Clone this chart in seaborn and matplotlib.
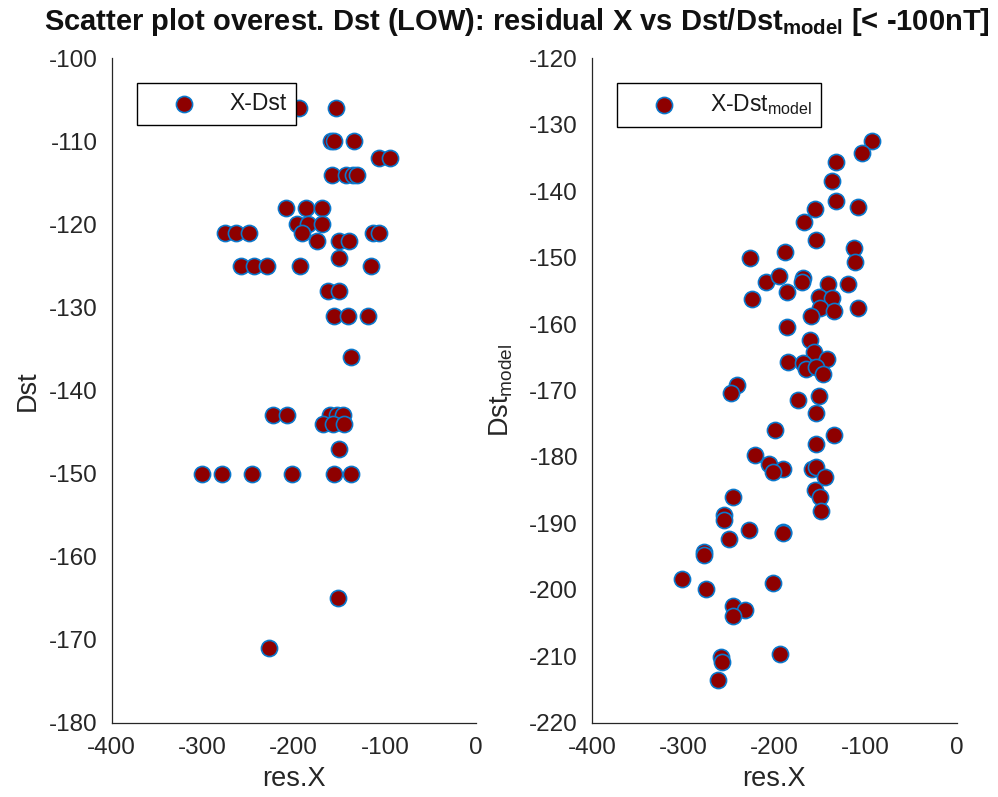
import matplotlib
matplotlib.use('Agg')
import matplotlib.pyplot as plt
import seaborn as sns
import pandas as pd

# ---------------- data ----------------
left_x = [-194, -154,
          -159, -156, -134,
          -106, -94,
          -158, -143, -135, -131,
          -209, -187, -169,
          -196, -184, -169,
          -191, -276, -263, -249, -113, -106,
          -175, -150, -139,
          -150,
          -258, -244, -229, -193, -115,
          -163, -150,
          -156, -141, -119,
          -137,
          -223, -207, -160, -153, -146,
          -168, -157, -145,
          -150,
          -301, -279, -246, -202, -156, -137,
          -151,
          -227]
left_y = [-106, -106,
          -110, -110, -110,
          -112, -112,
          -114, -114, -114, -114,
          -118, -118, -118,
          -120, -120, -120,
          -121, -121, -121, -121, -121, -121,
          -122, -122, -122,
          -124,
          -125, -125, -125, -125, -125,
          -128, -128,
          -131, -131, -131,
          -136,
          -143, -143, -143, -143, -143,
          -144, -144, -144,
          -147,
          -150, -150, -150, -150, -150, -150,
          -165,
          -171]

right_x = [-93, -104, -132, -137, -132, -108, -155, -168, -154, -113,
           -112, -227, -188, -209, -195, -169, -170, -119, -186, -141,
           -151, -137, -224, -150, -135, -108, -160, -186, -161, -157,
           -142, -185, -169, -165, -154, -147, -241, -247, -174, -151,
           -154, -199, -135, -154, -221, -206, -191, -201, -159, -154,
           -144, -155, -150, -149, -245, -255, -255, -228, -190, -191,
           -250, -277, -277, -301, -275, -202, -245, -232, -245, -194,
           -259, -257, -262]
right_y = [-132.5, -134.2, -135.6, -138.4, -141.4, -142.4, -142.7, -144.6, -147.3, -148.6,
           -150.6, -150.1, -149.2, -153.6, -152.8, -153.1, -153.6, -153.9, -155.1, -154.0,
           -155.9, -156.0, -156.2, -157.6, -158.1, -157.6, -158.8, -160.4, -162.4, -164.2,
           -165.2, -165.7, -165.9, -166.7, -166.4, -167.5, -169.2, -170.3, -171.5, -170.8,
           -173.4, -175.9, -176.7, -178.1, -179.7, -181.1, -181.8, -182.2, -181.8, -181.5,
           -183.0, -185.0, -186.0, -188.1, -186.0, -188.7, -189.5, -191.0, -191.3, -191.5,
           -192.4, -194.3, -194.8, -198.4, -199.9, -198.9, -202.5, -203.1, -203.9, -209.6,
           -210.1, -210.8, -213.6]

x_ticks = [-400, -300, -200, -100, 0]
left_y_ticks = [-180, -170, -160, -150, -140, -130, -120, -110, -100]
right_y_ticks = [-220, -210, -200, -190, -180, -170, -160, -150, -140, -130, -120]

# ---------------- style ----------------
sns.set_theme(style='white')
plt.rcParams['font.family'] = ['Liberation Sans', 'DejaVu Sans']
plt.rcParams['axes.unicode_minus'] = False
plt.rcParams['mathtext.fontset'] = 'custom'
plt.rcParams['mathtext.rm'] = 'Liberation Sans'
plt.rcParams['mathtext.it'] = 'Liberation Sans'
plt.rcParams['mathtext.bf'] = 'Liberation Sans:bold'
plt.rcParams['mathtext.default'] = 'rm'

FACE = '#8e0000'
EDGE = '#0a78cc'
AXC = '#262626'

fig = plt.figure(figsize=(9.98, 7.97), dpi=100)
ax1 = fig.add_axes([0.1119, 0.0932, 0.365, 0.8336])
ax2 = fig.add_axes([0.5932, 0.0932, 0.3654, 0.8336])

df_left = pd.DataFrame({'resX': left_x, 'Dst': left_y})
df_right = pd.DataFrame({'resX': right_x, 'Dstm': right_y})

sns.scatterplot(data=df_left, x='resX', y='Dst', ax=ax1, color=FACE,
                edgecolor=EDGE, linewidth=1.2, s=135, label='X-Dst', zorder=3)
sns.scatterplot(data=df_right, x='resX', y='Dstm', ax=ax2, color=FACE,
                edgecolor=EDGE, linewidth=1.2, s=135,
                label=r'X-Dst$_{\mathrm{model}}$', zorder=3)

for ax, yt, ylab, lpad in [(ax1, left_y_ticks, 'Dst', 6),
                           (ax2, right_y_ticks, r'Dst$_{\mathrm{model}}$', 10)]:
    ax.set_xlim(-400, 0)
    ax.set_ylim(yt[0], yt[-1])
    ax.set_xticks(x_ticks)
    ax.set_yticks(yt)
    for s in ['top', 'right']:
        ax.spines[s].set_visible(False)
    for s in ['left', 'bottom']:
        ax.spines[s].set_color(AXC)
        ax.spines[s].set_linewidth(0.9)
    ax.tick_params(axis='both', direction='in', length=4.5, width=0.9,
                   color=AXC, labelsize=17.5, labelcolor=AXC)
    ax.tick_params(axis='x', pad=10)
    ax.tick_params(axis='y', pad=10)
    ax.set_xlabel('res.X', fontsize=19.5, color=AXC, labelpad=5)
    ax.set_ylabel(ylab, fontsize=19.5, color=AXC, labelpad=lpad)
    leg = ax.legend(loc='upper left', bbox_to_anchor=(0.0694, 0.9624),
                    frameon=True, fancybox=False, edgecolor='black',
                    framealpha=1, borderpad=0.4, handlelength=3.3,
                    handletextpad=0.35, fontsize=16.5, borderaxespad=0)
    leg.get_frame().set_linewidth(1.0)
    for t in leg.get_texts():
        t.set_color('#1a1a1a')

fig.text(0.518, 1 - 30 / 797,
         r'Scatter plot overest. Dst (LOW): residual X vs Dst/Dst$_{\mathbf{model}}$ [< -100nT]',
         ha='center', va='baseline', fontsize=21, fontweight='bold',
         family=['Liberation Sans'], color='#111111')

fig.savefig('out.png', dpi=100)
